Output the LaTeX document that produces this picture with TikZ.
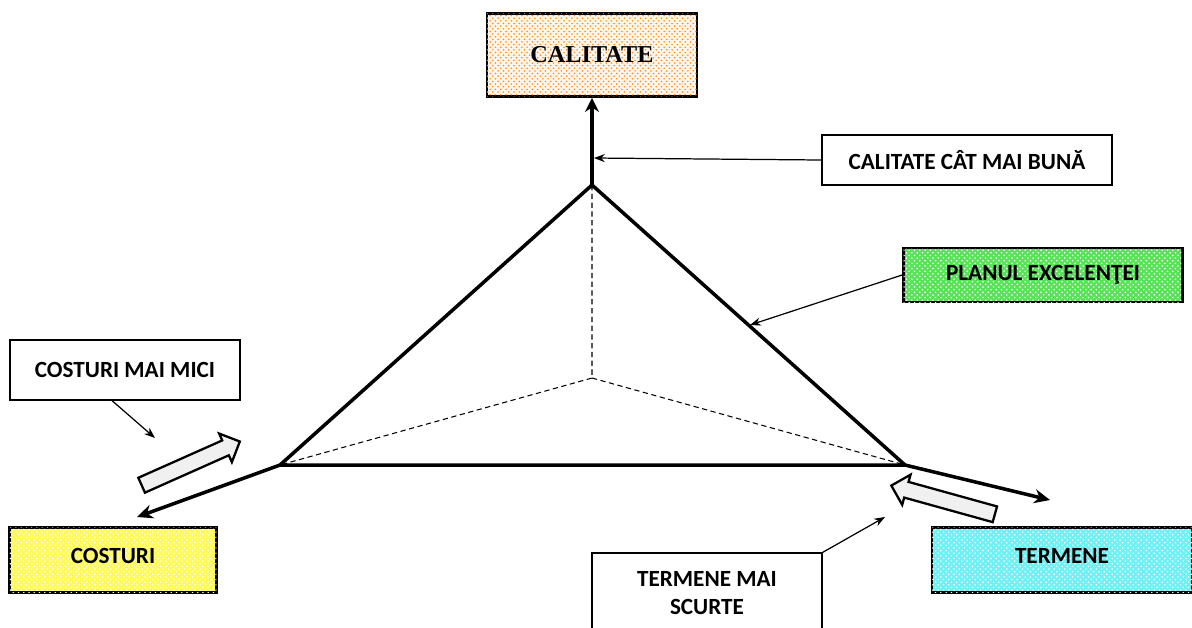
\documentclass[tikz,border=0pt]{standalone}
\usepackage{fontspec}
\setmainfont{Carlito}
\newfontfamily\serifbf{Liberation Serif}
\usetikzlibrary{arrows.meta, shapes.arrows, patterns}
\definecolor{excelgreen}{RGB}{90,225,90}
\definecolor{costyellow}{RGB}{255,250,90}
\definecolor{termcyan}{RGB}{110,240,245}

\begin{document}
\begin{tikzpicture}[
  x=0.02cm, y=-0.02cm,
  every node/.style={font=\bfseries\fontsize{13.2}{16}\selectfont, align=center},
  >=Stealth,
  box/.style={draw, line width=0.7pt, inner sep=0pt},
  goal/.style={draw, line width=1.6pt, inner sep=0pt},
  dotted fill/.style={fill=#1, postaction={pattern=crosshatch dots, pattern color=white}},
  edge/.style={line width=2pt, line join=miter},
  pointer/.style={->, line width=0.7pt},
  blockarrow/.style={single arrow, draw, line width=1.3pt, fill=gray!12,
    minimum height=2.15cm, inner xsep=0pt, inner ysep=0.14cm,
    single arrow head extend=0.15cm, single arrow head indent=0pt}
]
\clip (0,0) rectangle (1192,627);
% Nodes
\node[goal, fill=orange!8, minimum width=4.2cm, minimum height=1.66cm,
  postaction={pattern=crosshatch dots, pattern color=orange!90}] (calit) at (592,55)
  {\serifbf\fontsize{13.8}{16}\selectfont CALITATE};
\node[box, minimum width=5.8cm, minimum height=1cm] (bestq) at (967,160) {CALITATE CÂT MAI BUNĂ};
\node[goal, dotted fill=excelgreen, minimum width=5.58cm, minimum height=1.08cm] (excel) at (1043,275) {PLANUL EXCELENŢEI};
\node[box, minimum width=4.6cm, minimum height=1.2cm] (lowcost) at (125,370) {COSTURI MAI MICI};
\node[goal, dotted fill=costyellow, minimum width=4.14cm, minimum height=1.3cm] (costs) at (113,560) {\raisebox{5pt}{COSTURI}};
\node[goal, dotted fill=termcyan, minimum width=5.2cm, minimum height=1.3cm] (terms) at (1062,560) {\raisebox{5pt}{TERMENE}};
\node[box, minimum width=4.6cm, minimum height=1.6cm] (shortterm) at (707,593) {TERMENE MAI\\SCURTE};

% Triangle corners
\coordinate (apex) at (592,185);
\coordinate (left) at (280,465);
\coordinate (right) at (905,465);
\coordinate (mid) at (592,378);
\coordinate (costend) at (137,517);
\coordinate (termend) at (1050,500);
\coordinate (stem) at (594,158);
\coordinate (side) at (750,325);
\coordinate (lcend) at (155,438);
\coordinate (stend) at (885,517);

% Block arrows
\node[blockarrow, rotate=24] (pushcost) at (187,465) {};
\node[blockarrow, rotate=164.5] (pushterm) at (947,501) {};

% Edges
\draw[dashed, dash pattern=on 3pt off 2pt, line width=0.6pt] (apex) -- (mid) -- (left);
\draw[dashed, dash pattern=on 3pt off 2pt, line width=0.6pt] (mid) -- (right);
\draw[edge] (left) -- (apex) -- (right) -- cycle;
\draw[edge, -{Stealth[length=8pt, width=8pt]}] (apex) -- (calit.south);
\draw[edge, -{Stealth[length=9pt, width=8pt]}] (left) -- (costend);
\draw[edge, -{Stealth[length=9pt, width=8pt]}] (right) -- (termend);

% Pointers
\draw[pointer] (bestq.west) -- (stem);
\draw[pointer] (excel.west) -- (side);
\draw[pointer] (lowcost.-113) -- (lcend);
\draw[pointer] (shortterm.north east) -- (stend);
\end{tikzpicture}
\end{document}
